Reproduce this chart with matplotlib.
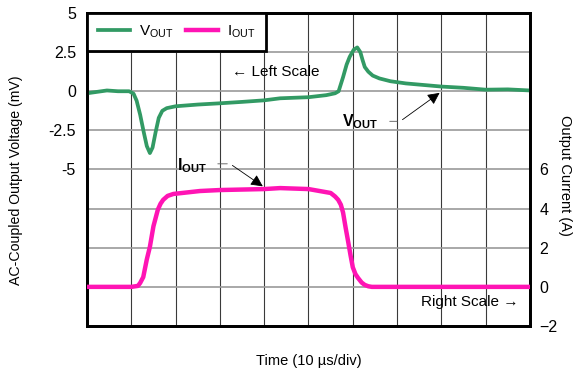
import numpy as np
import matplotlib
matplotlib.use("Agg")
import matplotlib.pyplot as plt

plt.rcParams['font.family'] = ['Liberation Sans', 'DejaVu Sans']
plt.rcParams['mathtext.fontset'] = 'custom'
plt.rcParams['mathtext.rm'] = 'Liberation Sans'
plt.rcParams['mathtext.bf'] = 'Liberation Sans:bold'

# time in divisions (10 us/div)
t_v = [0, 0.2, 0.45, 0.7, 0.95, 1.05, 1.12, 1.2, 1.28, 1.35, 1.42, 1.48, 1.55, 1.62,
       1.7, 1.8, 2.0, 2.5, 3.0, 3.5, 4.0, 4.36, 5.0, 5.4, 5.6, 5.68, 5.78, 5.86, 5.93,
       6.02, 6.1, 6.17, 6.22, 6.27, 6.35, 6.45, 6.6, 6.85, 7.2, 7.6, 8.0, 8.5, 9.0,
       9.5, 10]
v_out = [-0.13, -0.05, 0.05, 0.0, 0.0, -0.15, -0.6, -1.5, -2.6, -3.5, -3.95, -3.6,
         -2.6, -1.7, -1.25, -1.08, -0.96, -0.85, -0.77, -0.68, -0.58, -0.45, -0.38,
         -0.25, -0.13, 0.0, 0.9, 1.7, 2.2, 2.65, 2.8, 2.5, 2.0, 1.55, 1.25, 1.0, 0.82,
         0.64, 0.5, 0.4, 0.3, 0.22, 0.1, 0.12, 0.05]

t_i = [0, 1.0, 1.15, 1.2, 1.27, 1.35, 1.42, 1.5, 1.6, 1.66, 1.72, 1.82, 1.95, 2.55,
       3.0, 4.0, 4.36, 5.0, 5.5, 5.6, 5.67, 5.73, 5.78, 5.84, 5.9, 5.95, 6.0, 6.06,
       6.12, 6.2, 6.27, 6.35, 6.43, 7.0, 8.0, 9.0, 10]
i_out = [0, 0, 0.05, 0.2, 0.5, 1.4, 2.05, 3.1, 3.95, 4.25, 4.45, 4.65, 4.75, 4.9,
         4.95, 5.0, 5.05, 5.0, 4.8, 4.62, 4.45, 4.2, 3.8, 3.0, 2.25, 1.6, 1.0, 0.65,
         0.45, 0.22, 0.1, 0.03, 0.0, 0, 0, 0, 0]

left_ticks = [5, 2.5, 0, -2.5, -5]
right_ticks = [6, 4, 2, 0, -2]

green = '#329a64'
pink = '#ff14b4'

fig = plt.figure(figsize=(5.85, 3.77), dpi=100)
ax = fig.add_axes([0.1487, 0.1353, 0.906 - 0.1487, 0.9655 - 0.1353])
ax2 = ax.twinx()

ax.set_xlim(0, 10)
ax.set_ylim(-15, 5)
ax2.set_ylim(-2, 14)

# grid
for x in range(1, 10):
    ax.axvline(x, color='#3a3a3a', lw=0.8, zorder=0)
for y in np.arange(-12.5, 5, 2.5):
    ax.axhline(y, color='#9a9a9a', lw=1.2, zorder=0)

l1, = ax.plot(t_v, v_out, color=green, lw=2.7, label=r'V$_{\mathregular{OUT}}$',
              zorder=3, solid_joinstyle='round')
l2, = ax2.plot(t_i, i_out, color=pink, lw=3.2, label=r'I$_{\mathregular{OUT}}$',
               zorder=3, solid_joinstyle='round')

ax.set_xticks([])
ax.set_yticks(left_ticks)
ax.set_yticklabels(['5', '2.5', '0', '-2.5', '-5'])
ax2.set_yticks(right_ticks)
ax.tick_params(axis='y', length=0, pad=8, labelsize=11.5)
ax2.tick_params(axis='y', length=0, pad=7, labelsize=11.5)

for a in (ax, ax2):
    for s in a.spines.values():
        s.set_linewidth(2)
        s.set_color('black')

ax.set_xlabel('Time (10 µs/div)', fontsize=10.5, labelpad=20)
ax.set_ylabel('AC-Coupled Output Voltage (mV)', fontsize=10.2)
ax2.set_ylabel('Output Current (A)', fontsize=10.5, rotation=-90)
ax2.yaxis.set_label_coords(1.095, 0.48)
ax.yaxis.set_label_coords(-0.145, 0.465)

leg = ax2.legend(handles=[l1, l2], loc='upper left', ncol=2, fancybox=False,
                 edgecolor='black', framealpha=1, borderaxespad=0, fontsize=11,
                 handlelength=2.1, columnspacing=0.8, handletextpad=0.6,
                 borderpad=0.7)
leg.get_frame().set_linewidth(2)

ax.text(3.27, 1.21, '← Left Scale', fontsize=11, va='center', ha='left')
ax2.text(9.73, -0.77, 'Right Scale →', fontsize=11, va='center', ha='right')

# V_OUT callout
ax.text(6.57, -1.95, r'$\mathbf{V_{OUT}}$', fontsize=11.5, ha='right', va='center')
ax.annotate('', xy=(7.07, -1.92), xytext=(6.77, -1.92),
            arrowprops=dict(arrowstyle='-', color='#555555', lw=0.6))
ax.annotate('', xy=(8.01, 0.0), xytext=(7.07, -1.92),
            arrowprops=dict(arrowstyle='-|>', color='#555555', lw=0.6,
                            mutation_scale=18, fc='black', ec='black'))

# I_OUT callout
ax2.text(2.71, 6.19, r'$\mathbf{I_{OUT}}$', fontsize=11.5, ha='right', va='center')
ax2.annotate('', xy=(3.23, 6.29), xytext=(2.89, 6.29),
             arrowprops=dict(arrowstyle='-', color='#555555', lw=0.6))
ax2.annotate('', xy=(4.02, 5.06), xytext=(3.23, 6.29),
             arrowprops=dict(arrowstyle='-|>', color='#555555', lw=0.6,
                             mutation_scale=18, fc='black', ec='black'))

fig.savefig('out.png', dpi=100)
